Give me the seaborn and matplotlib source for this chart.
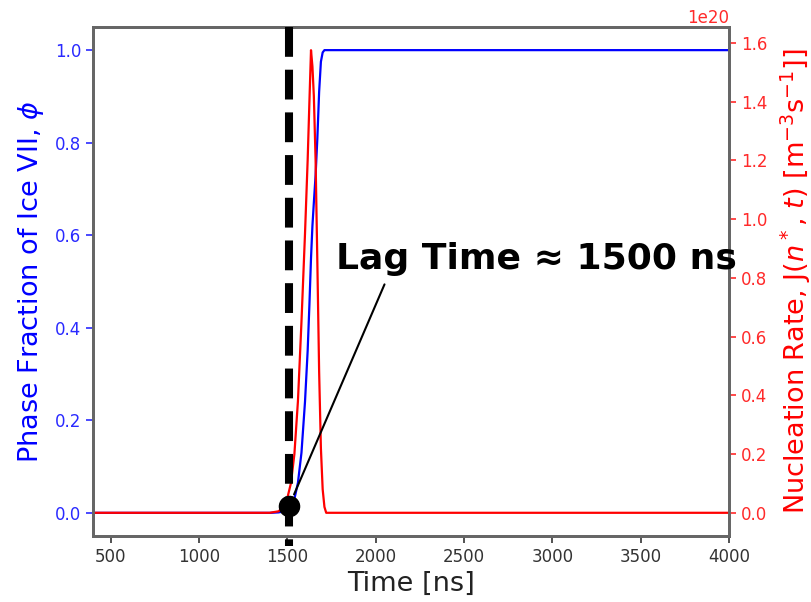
import numpy as np
import pandas as pd
import matplotlib
matplotlib.use("Agg")
import matplotlib.pyplot as plt
import seaborn as sns

# ---- data ----
time_ns = [400, 1000, 1300, 1400, 1450, 1480, 1500, 1520, 1540, 1560, 1580, 1600,
           1615, 1625, 1634, 1642, 1650, 1660, 1670, 1680, 1690, 1700, 1710, 1720,
           1750, 2000, 3000, 4000]
phase_fraction = [0.0, 0.0, 0.0, 0.0, 0.001, 0.003, 0.006, 0.013, 0.03, 0.065, 0.13, 0.24,
                  0.35, 0.45, 0.55, 0.62, 0.67, 0.73, 0.81, 0.91, 0.975, 0.995, 1.0, 1.0,
                  1.0, 1.0, 1.0, 1.0]
nucleation_rate_1e20 = [0.0, 0.0, 0.0, 0.0, 0.005, 0.02, 0.05, 0.10, 0.20, 0.38, 0.65, 0.95,
                        1.20, 1.40, 1.575, 1.52, 1.42, 1.20, 0.85, 0.48, 0.22, 0.08, 0.02, 0.0,
                        0.0, 0.0, 0.0, 0.0]
lag_time = 1510
lag_phi = 0.015
lag_label = "Lag Time \u2248 1500 ns"
x_ticks = [500, 1000, 1500, 2000, 2500, 3000, 3500, 4000]
left_ticks = [0.0, 0.2, 0.4, 0.6, 0.8, 1.0]
right_ticks = [0.0, 0.2, 0.4, 0.6, 0.8, 1.0, 1.2, 1.4, 1.6]

df = pd.DataFrame({
    "time": time_ns,
    "phi": phase_fraction,
    "J": np.array(nucleation_rate_1e20) * 1e20,
})

sns.set_theme(style="ticks")
plt.rcParams["font.family"] = ["DejaVu Sans"]
plt.rcParams["mathtext.fontset"] = "dejavusans"

fig = plt.figure(figsize=(8.12, 6.02), dpi=100)
ax = fig.add_axes([93 / 812, 1 - 536 / 602, (729 - 93) / 812, (536 - 27) / 602])
ax2 = ax.twinx()

sns.lineplot(data=df, x="time", y="phi", ax=ax, color="#0000ff", lw=1.6)
sns.lineplot(data=df, x="time", y="J", ax=ax2, color="#ff0000", lw=1.6)

ax.set_xlim(400, 4000)
ax.set_ylim(-0.05, 1.05)
ax2.set_ylim(-0.079e20, 1.654e20)
ax.set_xticks(x_ticks)
ax.set_yticks(left_ticks)
ax2.set_yticks([v * 1e20 for v in right_ticks])

spine_c = "#666666"
for a in (ax, ax2):
    for s in a.spines.values():
        s.set_color(spine_c)
        s.set_linewidth(2.0)

ax.tick_params(axis="x", labelsize=12, colors="#333333", length=5, width=1.2)
ax.tick_params(axis="y", labelsize=12, colors="#2a2aff", length=5, width=1.2)
ax2.tick_params(axis="y", labelsize=12, colors="#ff2a2a", length=5, width=1.2)
ax2.yaxis.get_offset_text().set_color("#ff2a2a")
ax2.yaxis.get_offset_text().set_fontsize(12)

ax.set_xlabel("Time [ns]", fontsize=19.5, color="#222222", labelpad=4)
ax.set_ylabel(r"Phase Fraction of Ice VII, $\phi$", fontsize=19.5, color="#0000ff", labelpad=6)
ax2.set_ylabel(r"Nucleation Rate, J($n^*$, $t$) [m$^{-3}$s$^{-1}$]]", fontsize=19.5,
               color="#ff0000", labelpad=8)

# dashed lag-time line, dot and annotation (drawn on top axes)
ax2.plot([lag_time, lag_time], [1.0, -0.02], transform=ax.get_xaxis_transform(),
         color="black", lw=5.8, ls="--", clip_on=False, zorder=5)
ax2.plot([lag_time], [lag_phi], marker="o", ms=14.5, color="black",
         transform=ax.transData, zorder=6, clip_on=False)
ax2.annotate(lag_label, xy=(lag_time, lag_phi), xycoords=ax.transData,
             xytext=(336, 602 - 259), textcoords="figure pixels",
             ha="left", va="center", fontsize=26, fontweight="bold",
             family=["DejaVu Sans"], color="black",
             arrowprops=dict(arrowstyle="-", color="black", lw=1.5,
                             relpos=(0.13, 0.0), shrinkA=4, shrinkB=9),
             annotation_clip=False, zorder=7)

fig.savefig("out.png", dpi=100)
